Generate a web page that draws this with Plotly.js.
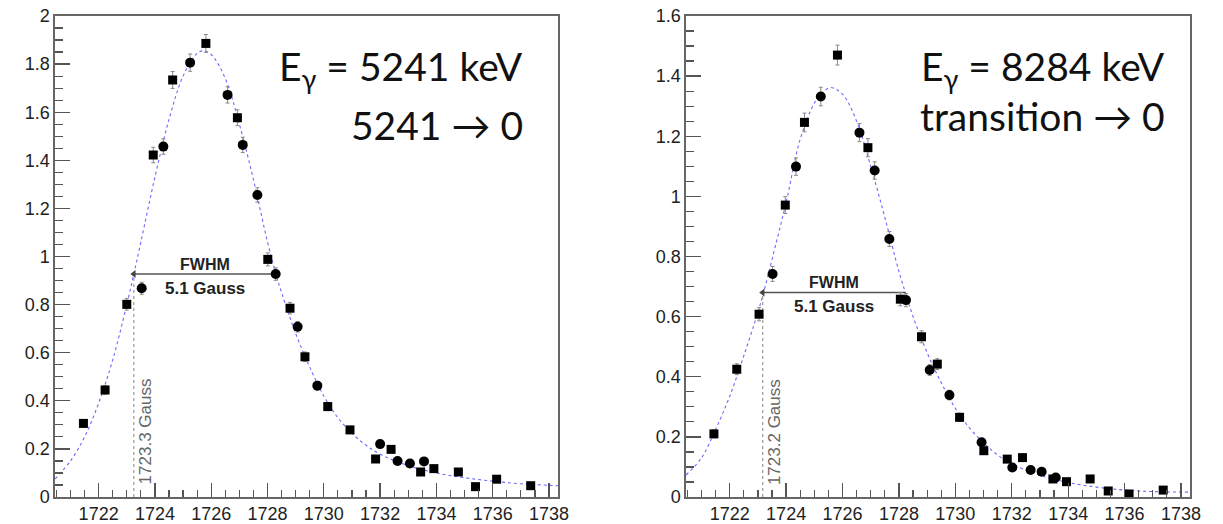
<!DOCTYPE html>
<html>
<head>
<meta charset="utf-8">
<script src="https://cdn.plot.ly/plotly-3.0.1.min.js"></script>
<style>html,body{margin:0;padding:0;background:#fff;}#chart{width:1223px;height:524px;}</style>
</head>
<body>
<div id="chart"></div>
<script>
// ---------- Left panel data (E_gamma = 5241 keV) ----------
const leftSquareX = [1721.46, 1722.23, 1723.00, 1723.94, 1724.63, 1725.81, 1726.93, 1728.01, 1728.80, 1729.33, 1730.14, 1730.93, 1731.84, 1732.39, 1733.44, 1733.91, 1734.78, 1735.39, 1736.14, 1737.35];
const leftSquareY = [0.306, 0.445, 0.801, 1.422, 1.734, 1.886, 1.577, 0.988, 0.785, 0.583, 0.376, 0.279, 0.158, 0.198, 0.104, 0.118, 0.104, 0.043, 0.074, 0.047];
const leftSquareErr = [0.015, 0.018, 0.024, 0.032, 0.035, 0.037, 0.033, 0.027, 0.024, 0.020, 0.017, 0.014, 0.011, 0.012, 0.009, 0.009, 0.009, 0.006, 0.007, 0.006];
const leftCircleX = [1723.53, 1724.30, 1725.25, 1726.58, 1727.12, 1727.64, 1728.29, 1729.07, 1729.77, 1732.00, 1732.62, 1733.06, 1733.56];
const leftCircleY = [0.868, 1.457, 1.806, 1.672, 1.464, 1.256, 0.927, 0.708, 0.463, 0.220, 0.150, 0.139, 0.148];
const leftCircleErr = [0.025, 0.032, 0.036, 0.034, 0.032, 0.030, 0.026, 0.022, 0.018, 0.012, 0.010, 0.010, 0.010];
const leftFitX = [1720.45, 1721, 1721.5, 1722, 1722.5, 1723, 1723.25, 1723.5, 1724, 1724.5, 1725, 1725.5, 1725.72, 1726, 1726.5, 1727, 1727.5, 1728, 1728.3, 1728.5, 1729, 1729.5, 1730, 1730.5, 1731, 1731.5, 1732, 1733, 1734, 1735, 1736, 1737, 1738.32];
const leftFitY = [0.075, 0.15, 0.25, 0.39, 0.57, 0.80, 0.927, 1.06, 1.33, 1.57, 1.75, 1.845, 1.855, 1.84, 1.74, 1.55, 1.32, 1.06, 0.927, 0.85, 0.68, 0.54, 0.42, 0.33, 0.265, 0.215, 0.178, 0.13, 0.10, 0.08, 0.066, 0.055, 0.047];

// ---------- Right panel data (E_gamma = 8284 keV) ----------
const rightSquareX = [1721.44, 1722.25, 1723.04, 1723.97, 1724.65, 1725.82, 1726.90, 1728.05, 1728.80, 1729.36, 1730.15, 1731.01, 1731.84, 1732.38, 1733.46, 1733.94, 1734.78, 1735.42, 1736.16, 1737.37];
const rightSquareY = [0.210, 0.425, 0.608, 0.971, 1.246, 1.470, 1.162, 0.658, 0.533, 0.442, 0.265, 0.154, 0.126, 0.131, 0.060, 0.051, 0.060, 0.020, 0.010, 0.023];
const rightSquareErr = [0.013, 0.018, 0.022, 0.028, 0.031, 0.033, 0.030, 0.022, 0.020, 0.018, 0.014, 0.011, 0.010, 0.010, 0.007, 0.006, 0.007, 0.004, 0.003, 0.004];
const rightCircleX = [1723.52, 1724.35, 1725.23, 1726.60, 1727.14, 1727.66, 1728.25, 1729.09, 1729.79, 1730.93, 1732.02, 1732.67, 1733.06, 1733.56];
const rightCircleY = [0.742, 1.099, 1.332, 1.212, 1.086, 0.858, 0.655, 0.4225, 0.339, 0.182, 0.098, 0.090, 0.084, 0.065];
const rightCircleErr = [0.025, 0.029, 0.031, 0.030, 0.029, 0.025, 0.022, 0.018, 0.016, 0.012, 0.009, 0.008, 0.008, 0.007];
const rightFitX = [1720.45, 1721, 1721.5, 1722, 1722.5, 1723, 1723.2, 1723.5, 1724, 1724.5, 1725, 1725.3, 1725.57, 1726, 1726.5, 1727, 1727.5, 1728, 1728.23, 1728.5, 1729, 1729.5, 1730, 1730.5, 1731, 1731.5, 1732, 1733, 1734, 1735, 1736, 1737, 1738.32];
const rightFitY = [0.073, 0.13, 0.225, 0.335, 0.47, 0.615, 0.68, 0.79, 0.98, 1.19, 1.31, 1.345, 1.362, 1.34, 1.25, 1.10, 0.93, 0.75, 0.68, 0.60, 0.48, 0.38, 0.295, 0.23, 0.18, 0.14, 0.11, 0.072, 0.048, 0.033, 0.023, 0.018, 0.016];

// ---------- FWHM markers ----------
const fwhmLeftEdge = [1723.25, 1723.17];
const fwhmRightEdge = [1728.30, 1728.24];
const halfMaximum = [0.927, 0.68];
const fwhmText = ["5.1 Gauss", "5.1 Gauss"];
const edgeText = ["1723.3 Gauss", "1723.2 Gauss"];
const titleLine1 = ["E<sub>γ</sub> = 5241 keV", "E<sub>γ</sub> = 8284 keV"];
const titleLine2 = ["5241 \u2192 0", "transition \u2192 0"];

// ---------- Axis ranges / ticks ----------
const xRange = [1720.45, 1738.32];
const yMax = [2, 1.6];

const panels = [
  {sx: leftSquareX, sy: leftSquareY, se: leftSquareErr, cx: leftCircleX, cy: leftCircleY, ce: leftCircleErr, fx: leftFitX, fy: leftFitY},
  {sx: rightSquareX, sy: rightSquareY, se: rightSquareErr, cx: rightCircleX, cy: rightCircleY, ce: rightCircleErr, fx: rightFitX, fy: rightFitY}
];

const traces = [];
const annotations = [];
const helv = 'Liberation Sans, Arial, sans-serif';
panels.forEach((p, i) => {
  const xa = i === 0 ? 'x' : 'x2';
  const ya = i === 0 ? 'y' : 'y2';
  // fit curve
  traces.push({x: p.fx, y: p.fy, xaxis: xa, yaxis: ya, type: 'scatter', mode: 'lines',
    line: {color: 'rgba(90,90,255,0.9)', width: 1.1, dash: 'dot', shape: 'spline', smoothing: 1},
    hoverinfo: 'skip', showlegend: false});
  // vertical dotted line at left half-maximum edge
  traces.push({x: [fwhmLeftEdge[i], fwhmLeftEdge[i]], y: [0, halfMaximum[i]], xaxis: xa, yaxis: ya,
    type: 'scatter', mode: 'lines', line: {color: '#999', width: 1.2, dash: 'dot'}, showlegend: false, hoverinfo: 'skip'});
  // FWHM horizontal line
  traces.push({x: [fwhmLeftEdge[i], fwhmRightEdge[i]], y: [halfMaximum[i], halfMaximum[i]], xaxis: xa, yaxis: ya,
    type: 'scatter', mode: 'lines', line: {color: '#555', width: 1.5}, showlegend: false, hoverinfo: 'skip'});
  // arrow head at left edge
  traces.push({x: [fwhmLeftEdge[i]], y: [halfMaximum[i]], xaxis: xa, yaxis: ya,
    type: 'scatter', mode: 'markers', marker: {symbol: 'triangle-left', size: 7, color: '#444'}, showlegend: false, hoverinfo: 'skip'});
  // squares
  traces.push({x: p.sx, y: p.sy, xaxis: xa, yaxis: ya, type: 'scatter', mode: 'markers',
    marker: {symbol: 'square', size: 9, color: '#000'},
    error_y: {type: 'data', array: p.se, visible: true, color: '#888', thickness: 1, width: 2},
    showlegend: false});
  // circles
  traces.push({x: p.cx, y: p.cy, xaxis: xa, yaxis: ya, type: 'scatter', mode: 'markers',
    marker: {symbol: 'circle', size: 10, color: '#000'},
    error_y: {type: 'data', array: p.ce, visible: true, color: '#888', thickness: 1, width: 2},
    showlegend: false});

  const mid = (fwhmLeftEdge[i] + fwhmRightEdge[i]) / 2;
  annotations.push({xref: xa, yref: ya, x: mid, y: halfMaximum[i], yshift: 10, showarrow: false,
    text: 'FWHM', font: {family: helv, size: 16, color: '#222', weight: 'bold'}, xanchor: 'center', yanchor: 'middle'});
  annotations.push({xref: xa, yref: ya, x: mid, y: halfMaximum[i], yshift: -14, showarrow: false,
    text: fwhmText[i], font: {family: helv, size: 17, color: '#222', weight: 'bold'}, xanchor: 'center', yanchor: 'middle'});
  annotations.push({xref: xa, yref: ya, x: fwhmLeftEdge[i], y: [0.272, 0.215][i], xshift: 12, showarrow: false,
    text: edgeText[i], textangle: -90, font: {family: helv, size: 17, color: '#666'}, xanchor: 'center', yanchor: 'middle'});
});

// big labels
const bigFont = {family: 'Lato, Calibri, sans-serif', size: 39, color: '#111'};
annotations.push({xref: 'paper', yref: 'paper', x: 525/1223, y: 1 - 69/524, xanchor: 'right', yanchor: 'middle', showarrow: false, text: titleLine1[0], font: bigFont});
annotations.push({xref: 'paper', yref: 'paper', x: 525/1223, y: 1 - 125/524, xanchor: 'right', yanchor: 'middle', showarrow: false, text: titleLine2[0], font: bigFont});
annotations.push({xref: 'paper', yref: 'paper', x: 1167/1223, y: 1 - 69/524, xanchor: 'right', yanchor: 'middle', showarrow: false, text: titleLine1[1], font: bigFont});
annotations.push({xref: 'paper', yref: 'paper', x: 1167/1223, y: 1 - 116/524, xanchor: 'right', yanchor: 'middle', showarrow: false, text: titleLine2[1], font: bigFont});

function xAxis(domain, anchor) {
  return {domain: domain, anchor: anchor, range: xRange, dtick: 2, tick0: 1722, ticks: 'inside', ticklen: 14,
    tickcolor: '#555', tickwidth: 1.3, showline: true, linecolor: '#666', linewidth: 1.6, mirror: true,
    showgrid: false, zeroline: false, tickfont: {family: helv, size: 18, color: '#222'},
    minor: {dtick: 0.5, ticks: 'inside', ticklen: 7, tickcolor: '#555', tickwidth: 1.2}};
}
function yAxis(domain, anchor, top) {
  return {domain: domain, anchor: anchor, range: [0, top], dtick: 0.2, tick0: 0, ticks: 'inside', ticklen: 15,
    tickcolor: '#555', tickwidth: 1.3, showline: true, linecolor: '#666', linewidth: 1.6, mirror: true,
    showgrid: false, zeroline: false, tickfont: {family: helv, size: 18, color: '#222'},
    minor: {dtick: 0.05, ticks: 'inside', ticklen: 8, tickcolor: '#555', tickwidth: 1.2}};
}

const yDom = [27/524, 508/524];
const layout = {
  width: 1223, height: 524, margin: {l: 0, r: 0, t: 0, b: 0},
  paper_bgcolor: '#fff', plot_bgcolor: '#fff', showlegend: false,
  xaxis: xAxis([55/1223, 558/1223], 'y'),
  yaxis: yAxis(yDom, 'x', yMax[0]),
  xaxis2: xAxis([686/1223, 1190/1223], 'y2'),
  yaxis2: yAxis(yDom, 'x2', yMax[1]),
  annotations: annotations
};
Plotly.newPlot('chart', traces, layout, {displayModeBar: false, staticPlot: true});
</script>
</body>
</html>
